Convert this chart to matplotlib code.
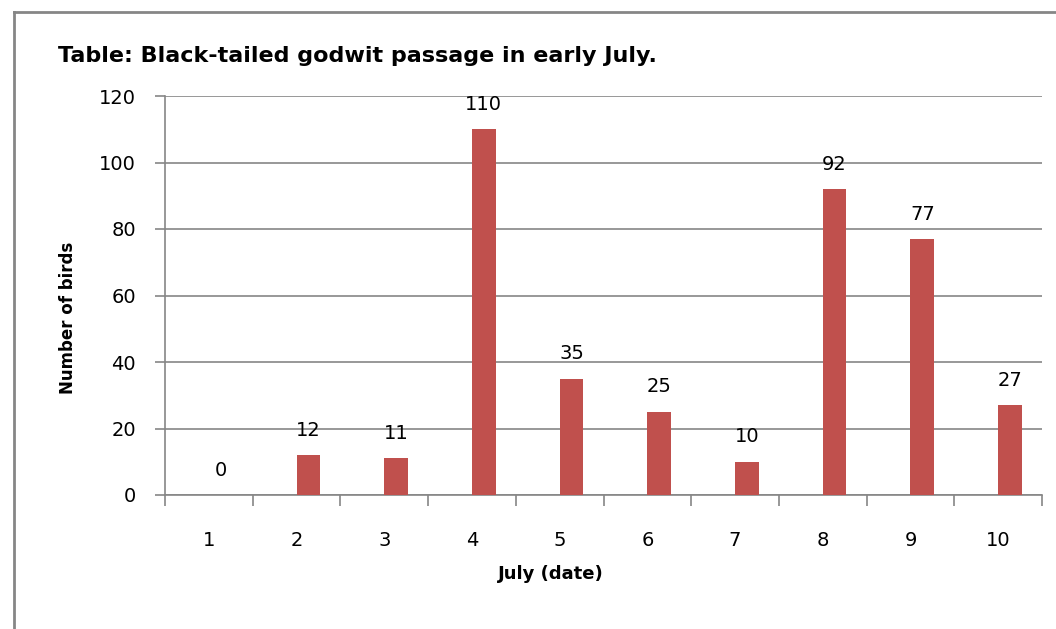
import matplotlib.pyplot as plt
from matplotlib.lines import Line2D

days = [1, 2, 3, 4, 5, 6, 7, 8, 9, 10]
birds = [0, 12, 11, 110, 35, 25, 10, 92, 77, 27]
y_ticks = [0, 20, 40, 60, 80, 100, 120]

plt.rcParams['font.family'] = ['DejaVu Sans']

fig = plt.figure(figsize=(10.56, 6.29), dpi=100)
ax = fig.add_axes([165 / 1056, 1 - 495 / 629, (1042 - 165) / 1056, (495 - 96) / 629])

bar_color = '#C0504D'
grid_color = '#868686'
bar_w = 0.27

# Excel-style: bar starts at the category centre
ax.bar(days, birds, width=bar_w, align='edge', color=bar_color, zorder=3)

for d, v in zip(days, birds):
    ax.annotate(str(v), (d + bar_w / 2, v), xytext=(0, 14), textcoords='offset points',
                ha='center', va='baseline', fontsize=14, color='black')

ax.set_xlim(0.5, 10.5)
ax.set_ylim(0, 120)
ax.set_yticks(y_ticks)
ax.yaxis.grid(True, color=grid_color, linewidth=1.2, zorder=0)

# tick marks at category boundaries, labels at centres
ax.set_xticks([d - 0.5 for d in days] + [10.5])
ax.set_xticklabels([])
ax.set_xticks(days, minor=True)
ax.set_xticklabels([str(d) for d in days], minor=True, fontsize=14)
ax.tick_params(axis='x', which='major', length=8, width=1.2, color=grid_color, direction='out')
ax.tick_params(axis='x', which='minor', length=0, pad=26)
ax.tick_params(axis='y', length=7, width=1.2, color=grid_color, pad=14, labelsize=14)

for side in ['top', 'right']:
    ax.spines[side].set_visible(False)
for side in ['left', 'bottom']:
    ax.spines[side].set_color(grid_color)
    ax.spines[side].set_linewidth(1.2)

ax.set_ylabel('Number of birds', fontsize=12, fontweight='bold')
ax.yaxis.set_label_coords((77 - 165) / 877, (495 - 318) / 399)
ax.set_xlabel('July (date)', fontsize=13, fontweight='bold')
ax.xaxis.set_label_coords((551 - 165) / 877, (495 - 565) / 399)

fig.text(58 / 1056, 1 - 62 / 629, 'Table: Black-tailed godwit passage in early July.',
         fontsize=16, fontweight='bold', va='baseline', ha='left')

# chart border
fig.add_artist(Line2D([14 / 1056, 14 / 1056], [0, 1 - 12 / 629], transform=fig.transFigure,
                      color=grid_color, linewidth=2))
fig.add_artist(Line2D([14 / 1056, 1], [1 - 12 / 629, 1 - 12 / 629], transform=fig.transFigure,
                      color=grid_color, linewidth=2))

fig.savefig('out.png', dpi=100)
